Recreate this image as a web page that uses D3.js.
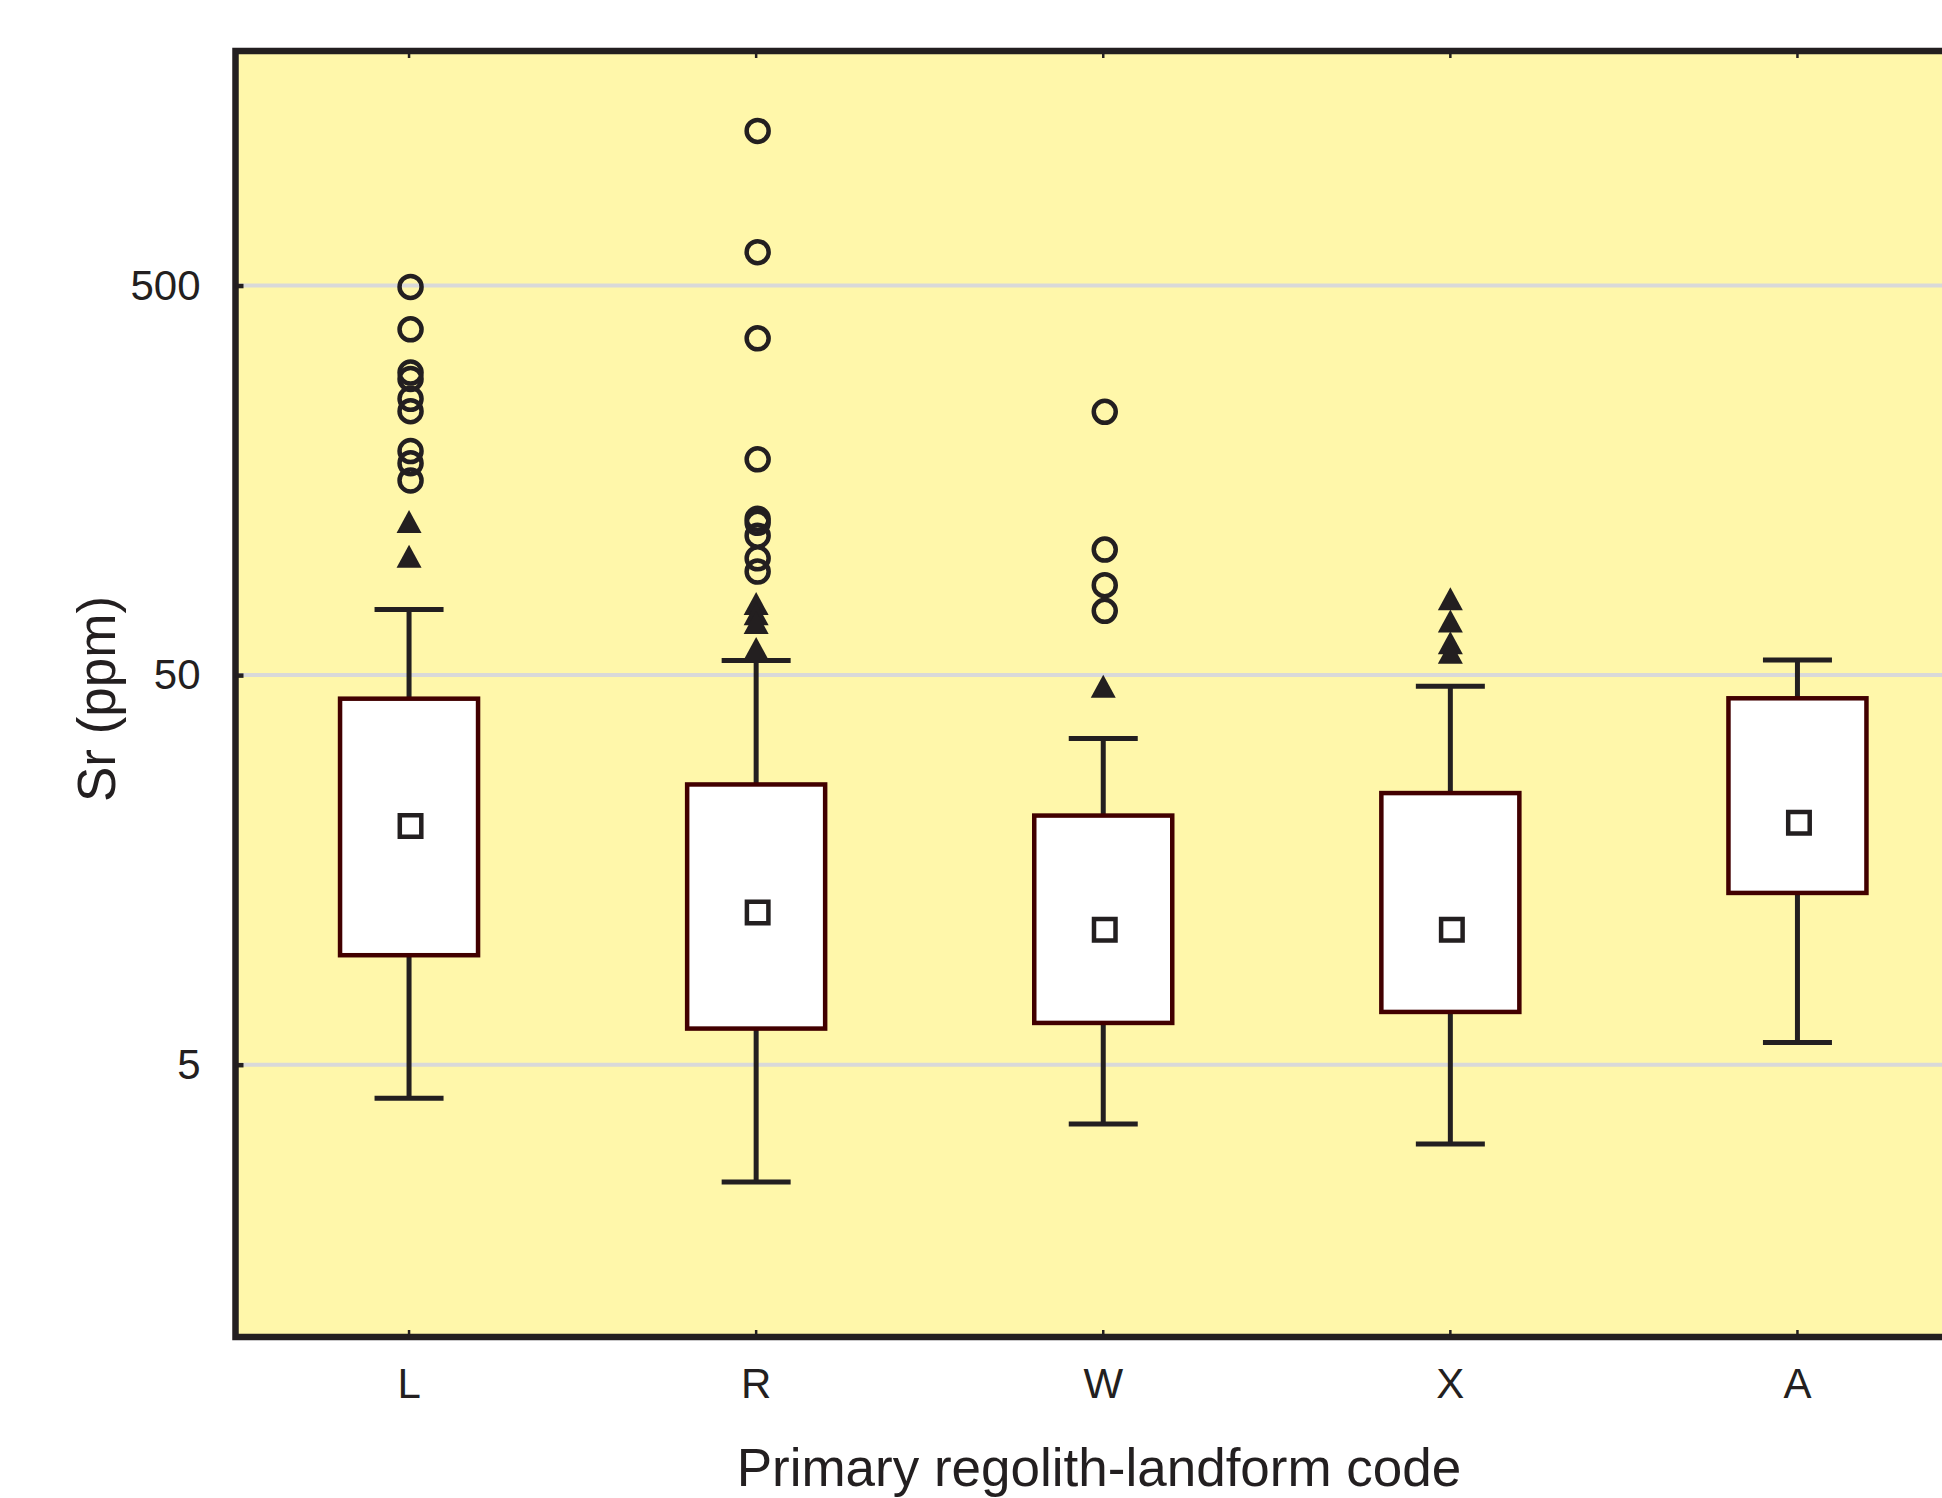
<!DOCTYPE html>
<html>
<head>
<meta charset="utf-8">
<script src="https://cdn.jsdelivr.net/npm/d3@7"></script>
<style>
	html, body { margin: 0; padding: 0; background: #ffffff; }
	svg { display: block; }
	text { font-family: "Liberation Sans", Arial, Helvetica, sans-serif; fill: #231f20; }
</style>
</head>
<body>
<div class="chart"></div>
<script>
// ── Data ─────────────────────────────────────────────────────────────────

const categories = ['L', 'R', 'W', 'X', 'A'];

const lowerWhisker = [4.10, 2.50, 3.52, 3.13, 5.70];
const lowerQuartile = [9.55, 6.19, 6.40, 6.83, 13.8];
const means = [20.5, 12.3, 11.1, 11.1, 20.9];
const upperQuartile = [43.5, 26.2, 21.8, 24.9, 43.6];
const upperWhisker = [73.7, 54.5, 34.4, 46.8, 54.7];

// open circles
const outliers = [
	[496, 386, 299, 288, 256, 238, 188, 175, 158],
	[1247, 609, 366, 179, 126, 123, 114, 99.7, 92.2],
	[237, 105, 85.1, 73.1],
	[],
	[]
];

// filled triangles
const extremes = [
	[124, 101],
	[76.3, 71.9, 68.2, 58.5],
	[46.8],
	[78.5, 68.8, 60.5, 57.2],
	[]
];

const yTicks = [5, 50, 500];
const yDomain = [1, 2000];

const xTitle = 'Primary regolith-landform code';
const yTitle = 'Sr (ppm)';

// ── Layout ───────────────────────────────────────────────────────────────

const WIDTH = 1942;
const HEIGHT = 1498;
const PLOT = {left: 235.5, right: 1971, top: 51, bottom: 1337};
const BOX_WIDTH = 138;
const CAP_WIDTH = 69;
const INK = '#231f20';

const svg = d3.select('.chart')
.append('svg')
.attr('width', WIDTH)
.attr('height', HEIGHT);

const xScale = d3.scaleBand()
.domain(categories)
.range([PLOT.left, PLOT.right])
.padding(0);

const yScale = d3.scaleLog()
.domain(yDomain)
.range([PLOT.bottom, PLOT.top]);

const centre = (name) => xScale(name) + xScale.bandwidth() / 2;

// plot background
svg.append('rect')
.attr('x', PLOT.left)
.attr('y', PLOT.top)
.attr('width', PLOT.right - PLOT.left + 20)
.attr('height', PLOT.bottom - PLOT.top)
.attr('fill', '#fff7aa');

// grid lines
svg.append('g')
.selectAll('line')
.data(yTicks)
.join('line')
.attr('x1', PLOT.left)
.attr('x2', PLOT.right + 20)
.attr('y1', (d) => yScale(d))
.attr('y2', (d) => yScale(d))
.attr('stroke', '#d9d9d9')
.attr('stroke-width', 4);

// ── Boxes ────────────────────────────────────────────────────────────────

const stats = categories.map((name, i) => ({
	name,
	low: lowerWhisker[i],
	q1: lowerQuartile[i],
	mean: means[i],
	q3: upperQuartile[i],
	high: upperWhisker[i],
	outliers: outliers[i],
	extremes: extremes[i]
}));

const groups = svg.append('g')
.selectAll('g')
.data(stats)
.join('g')
.attr('transform', (d) => `translate(${centre(d.name)},0)`);

groups.append('line')
.attr('y1', (d) => yScale(d.high))
.attr('y2', (d) => yScale(d.q3))
.attr('stroke', INK)
.attr('stroke-width', 5);

groups.append('line')
.attr('y1', (d) => yScale(d.q1))
.attr('y2', (d) => yScale(d.low))
.attr('stroke', INK)
.attr('stroke-width', 5);

groups.selectAll('.cap')
.data((d) => [d.high, d.low])
.join('line')
.attr('class', 'cap')
.attr('x1', -CAP_WIDTH / 2)
.attr('x2', CAP_WIDTH / 2)
.attr('y1', (v) => yScale(v))
.attr('y2', (v) => yScale(v))
.attr('stroke', INK)
.attr('stroke-width', 5);

groups.append('rect')
.attr('x', -BOX_WIDTH / 2)
.attr('width', BOX_WIDTH)
.attr('y', (d) => yScale(d.q3))
.attr('height', (d) => yScale(d.q1) - yScale(d.q3))
.attr('fill', '#ffffff')
.attr('stroke', '#420000')
.attr('stroke-width', 4.5);

// triangle centred on its bounding box
const bboxTriangle = {
	draw(context, size)
	{
		const w = Math.sqrt(size);
		const h = w * 0.92;
		context.moveTo(0, -h / 2);
		context.lineTo(w / 2, h / 2);
		context.lineTo(-w / 2, h / 2);
		context.closePath();
	}
};

groups.selectAll('.extreme')
.data((d) => d.extremes)
.join('path')
.attr('class', 'extreme')
.attr('d', d3.symbol(bboxTriangle, 25 * 25))
.attr('transform', (v) => `translate(0,${yScale(v)})`)
.attr('fill', INK);

groups.selectAll('.outlier')
.data((d) => d.outliers)
.join('circle')
.attr('class', 'outlier')
.attr('cx', 1.5)
.attr('cy', (v) => yScale(v))
.attr('r', 11)
.attr('fill', 'none')
.attr('stroke', INK)
.attr('stroke-width', 4.5);

groups.append('path')
.attr('d', d3.symbol(d3.symbolSquare, 21.5 * 21.5))
.attr('transform', (d) => `translate(1.5,${yScale(d.mean)})`)
.attr('fill', '#ffffff')
.attr('stroke', INK)
.attr('stroke-width', 4.5);

// ── Frame and axes ───────────────────────────────────────────────────────

svg.append('rect')
.attr('x', PLOT.left)
.attr('y', PLOT.top)
.attr('width', PLOT.right - PLOT.left)
.attr('height', PLOT.bottom - PLOT.top)
.attr('fill', 'none')
.attr('stroke', INK)
.attr('stroke-width', 6.5);

const yAxis = d3.axisLeft(yScale)
.tickValues(yTicks)
.tickFormat(d3.format('d'))
.tickSizeInner(-8)
.tickSizeOuter(0)
.tickPadding(35);

svg.append('g')
.attr('transform', `translate(${PLOT.left},0)`)
.call(yAxis)
.call((g) => g.select('.domain').remove())
.call((g) => g.selectAll('.tick line').attr('stroke', INK).attr('stroke-width', 4.5))
.call((g) => g.selectAll('.tick text')
.attr('font-size', 42)
.attr('font-family', '"Liberation Sans", Arial, sans-serif')
.attr('fill', INK));

const xAxis = d3.axisBottom(xScale)
.tickSizeInner(-7)
.tickSizeOuter(0)
.tickPadding(31);

svg.append('g')
.attr('transform', `translate(0,${PLOT.bottom})`)
.call(xAxis)
.call((g) => g.select('.domain').remove())
.call((g) => g.selectAll('.tick line').attr('stroke', INK).attr('stroke-width', 2.5))
.call((g) => g.selectAll('.tick text')
.attr('font-size', 42)
.attr('font-family', '"Liberation Sans", Arial, sans-serif')
.attr('fill', INK));

svg.append('g')
.attr('transform', `translate(0,${PLOT.top})`)
.call(d3.axisTop(xScale).tickSizeInner(-7).tickSizeOuter(0).tickFormat(''))
.call((g) => g.select('.domain').remove())
.call((g) => g.selectAll('.tick line').attr('stroke', INK).attr('stroke-width', 2.5));

// ── Titles ───────────────────────────────────────────────────────────────

svg.append('text')
.attr('x', 1099)
.attr('y', 1486)
.attr('text-anchor', 'middle')
.attr('font-size', 53)
.text(xTitle);

svg.append('text')
.attr('transform', 'translate(115,699) rotate(-90)')
.attr('text-anchor', 'middle')
.attr('font-size', 53)
.text(yTitle);
</script>
</body>
</html>
